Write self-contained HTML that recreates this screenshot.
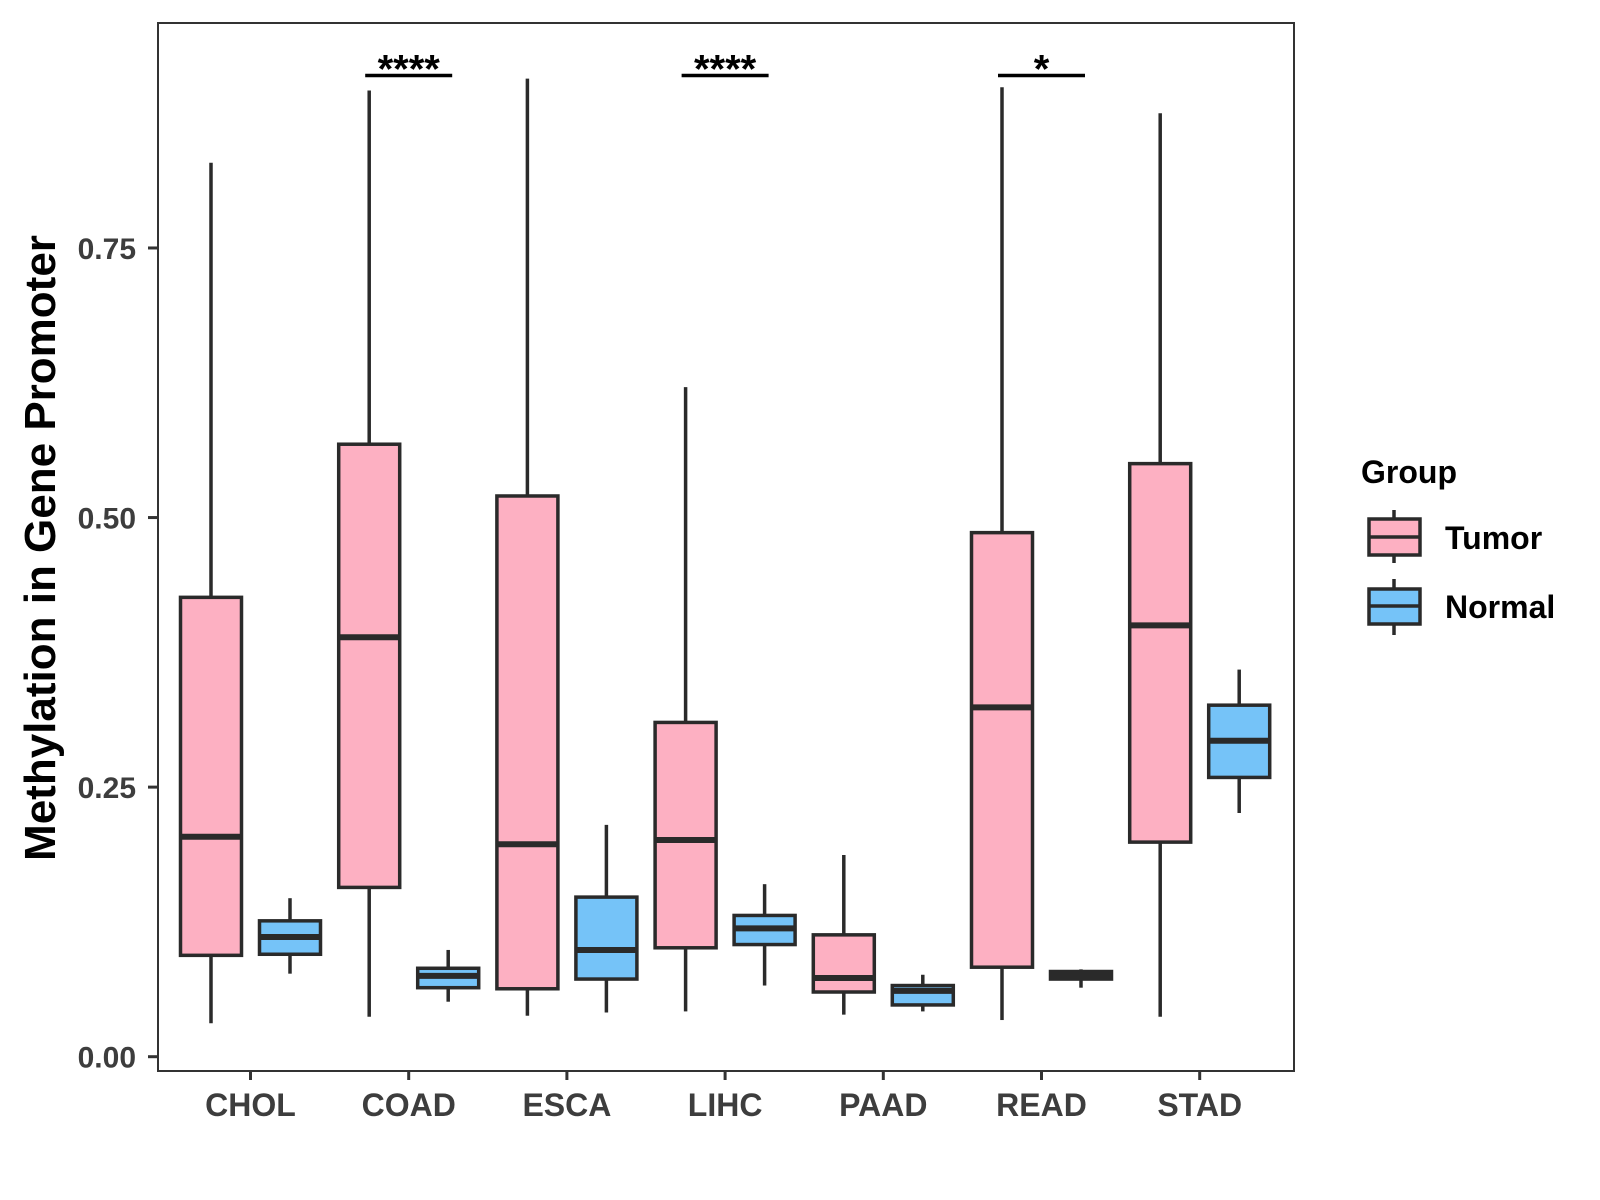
<!DOCTYPE html>
<html><head><meta charset="utf-8"><style>
html,body{margin:0;padding:0;background:#fff;}
svg{display:block;font-family:"Liberation Sans",Arial,sans-serif;}
</style></head><body>
<svg id="chart" width="1600" height="1200" viewBox="0 0 1600 1200" xmlns="http://www.w3.org/2000/svg">
<rect width="1600" height="1200" fill="#fff"/>
<g id="marks"></g>
<rect x="158" y="23" width="1136" height="1048" fill="none" stroke="#333" stroke-width="2"/>
<g id="axes"></g>
<text transform="translate(55,548) rotate(-90)" text-anchor="middle" font-size="44" font-weight="bold" fill="#000">Methylation in Gene Promoter</text>
<g>
<text x="1361" y="483" font-size="32" font-weight="bold" fill="#000">Group</text>
<g>
<line x1="1394" y1="510" x2="1394" y2="563" stroke="#2a2a2a" stroke-width="3.5"/>
<rect x="1369" y="519" width="51" height="36" fill="#FDB0C2" stroke="#2a2a2a" stroke-width="3.5"/>
<line x1="1369" y1="537" x2="1420" y2="537" stroke="#2a2a2a" stroke-width="3.5"/>
<text x="1445" y="549" font-size="32" font-weight="bold" fill="#000">Tumor</text>
</g>
<g>
<line x1="1394" y1="579" x2="1394" y2="635" stroke="#2a2a2a" stroke-width="3.5"/>
<rect x="1369" y="589" width="51" height="35" fill="#75C3F8" stroke="#2a2a2a" stroke-width="3.5"/>
<line x1="1369" y1="606" x2="1420" y2="606" stroke="#2a2a2a" stroke-width="3.5"/>
<text x="1445" y="618" font-size="32" font-weight="bold" fill="#000">Normal</text>
</g>
</g>
</svg>
<script>
const categories = ["CHOL","COAD","ESCA","LIHC","PAAD","READ","STAD"];
// [low, q1, median, q3, high]
const tumorStats = [
 [0.031,0.094,0.204,0.426,0.829],
 [0.037,0.157,0.389,0.568,0.896],
 [0.038,0.063,0.197,0.520,0.907],
 [0.042,0.101,0.201,0.310,0.621],
 [0.039,0.060,0.073,0.113,0.187],
 [0.034,0.083,0.324,0.486,0.899],
 [0.037,0.199,0.400,0.550,0.875]
];
const normalStats = [
 [0.077,0.095,0.111,0.126,0.147],
 [0.051,0.064,0.075,0.082,0.099],
 [0.041,0.072,0.099,0.148,0.215],
 [0.066,0.104,0.119,0.131,0.160],
 [0.042,0.048,0.061,0.066,0.076],
 [0.064,0.072,0.076,0.079,0.081],
 [0.226,0.259,0.293,0.326,0.359]
];
const yTicks = [0, 0.25, 0.5, 0.75];
const yTickLabels = ["0.00","0.25","0.50","0.75"];
const sigCategories = ["COAD","LIHC","READ"];
const sigLabels = ["****","****","*"];
const sigLevel = 0.910;

const NS = "http://www.w3.org/2000/svg";
function yScale(v){ return 1056.7 - v*1078.3; }
function xScale(i){ return 250.5 + i*158.2; }
const boxW = 61, off = 39.5;
function mk(tag, attrs, parent){
  const e = document.createElementNS(NS, tag);
  for (const k in attrs) e.setAttribute(k, attrs[k]);
  parent.appendChild(e); return e;
}
const marks = document.getElementById('marks');
const axes = document.getElementById('axes');
function drawBox(s, cx, fill, name){
  const g = mk('g', {}, marks);
  
  
  const st = {stroke:'#2a2a2a','stroke-width':3.5};
  mk('line', Object.assign({x1:cx,x2:cx,y1:yScale(s[4]),y2:yScale(s[3])},st), g);
  mk('line', Object.assign({x1:cx,x2:cx,y1:yScale(s[1]),y2:yScale(s[0])},st), g);
  mk('rect', Object.assign({x:cx-boxW/2,y:yScale(s[3]),width:boxW,height:Math.max(0.5,yScale(s[1])-yScale(s[3])),fill:fill},st), g);
  mk('line', {x1:cx-boxW/2,x2:cx+boxW/2,y1:yScale(s[2]),y2:yScale(s[2]),stroke:'#2a2a2a','stroke-width':6}, g);
}
categories.forEach((c,i)=>{
  drawBox(tumorStats[i], xScale(i)-off, '#FDB0C2', 'box-tumor-'+c.toLowerCase());
  drawBox(normalStats[i], xScale(i)+off, '#75C3F8', 'box-normal-'+c.toLowerCase());
  const t = mk('line', {x1:xScale(i),x2:xScale(i),y1:1071,y2:1080,stroke:'#333','stroke-width':3}, axes);
  
  
  const lb = mk('text', {x:xScale(i),y:1116,'text-anchor':'middle','font-size':32,'font-weight':'bold',fill:'#3d3d3d'}, axes);
  
  
  lb.textContent = c;
});
yTicks.forEach((v,i)=>{
  const t = mk('line', {x1:148,x2:158,y1:yScale(v),y2:yScale(v),stroke:'#333','stroke-width':3}, axes);
  
  
  const lb = mk('text', {x:136,y:yScale(v)+11,'text-anchor':'end','font-size':30,'font-weight':'bold',fill:'#3d3d3d'}, axes);
  
  
  lb.textContent = yTickLabels[i];
});
sigCategories.forEach((c,j)=>{
  const i = categories.indexOf(c);
  const y = yScale(sigLevel);
  const l = mk('line', {x1:xScale(i)-off-4,x2:xScale(i)+off+4,y1:y,y2:y,stroke:'#000','stroke-width':3.5}, marks);
  
  
  const tx = mk('text', {x:xScale(i),y:y+7,'text-anchor':'middle','font-size':40,'font-weight':'bold',fill:'#000'}, marks);
  
  
  tx.textContent = sigLabels[j];
});
</script>
</body></html>
